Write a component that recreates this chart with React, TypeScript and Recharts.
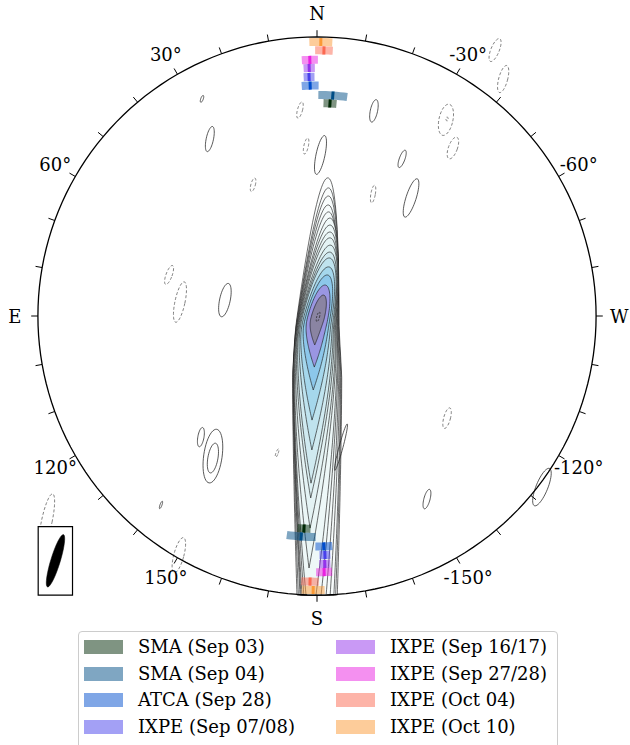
import React from "react";
import { ScatterChart, Scatter, XAxis, YAxis, Legend } from "recharts";

// sky frame: circle radius = 100 units, position angle counted from N through E (left)
const FONT = "'DejaVu Serif', serif";

const tickAngles = [0, 10, 20, 30, 40, 50, 60, 70, 80, 90, 100, 110, 120, 130, 140, 150, 160, 170,
  180, 190, 200, 210, 220, 230, 240, 250, 260, 270, 280, 290, 300, 310, 320, 330, 340, 350];
const axisLabels = ["N", "30°", "60°", "E", "120°", "150°", "S", "-150°", "-120°", "W", "-60°", "-30°"];
const axisLabelAngles = [0, 30, 60, 90, 120, 150, 180, 210, 240, 270, 300, 330];

// angle markers (legend order)
const markerNames = ["SMA (Sep 03)", "SMA (Sep 04)", "ATCA (Sep 28)", "IXPE (Sep 07/08)",
  "IXPE (Sep 16/17)", "IXPE (Sep 27/28)", "IXPE (Oct 04)", "IXPE (Oct 10)"];
const markerColors = ["#002905", "#004d85", "#004dcd", "#4741eb", "#9333eb", "#e921e1", "#fb6951", "#fb9935"];
const markerPA = [-3.5, -4.1, 1.7, 1.9, 1.8, 1.6, -1.5, -0.8];
const markerErr = [1.75, 3.75, 2.1, 1.3, 1.3, 1.8, 1.9, 2.4];
const markerRadius = [76.3, 79.2, 82.6, 85.7, 88.9, 91.8, 95.2, 98.2];

// main source contours, inner -> outer (waist = row of greatest width)
const blobContours = [
  { top: 7.5, waist: -1, bottom: -10.4, half: 2.4, leanTop: 0.25, leanBottom: 0, pTop: 2, fill: "#8a84a2" },
  { top: 11.1, waist: -2, bottom: -18.3, half: 3.7, leanTop: 0.22, leanBottom: 0.02, pTop: 2, fill: "#9a96e2" },
  { top: 14.7, waist: -4, bottom: -26.5, half: 4.5, leanTop: 0.22, leanBottom: 0.03, pTop: 2, fill: "#8cc7ea" },
  { top: 17.6, waist: -6, bottom: -37.3, half: 5.2, leanTop: 0.21, leanBottom: 0.035, pTop: 2, fill: "#a5d7ec" },
  { top: 20.8, waist: -8, bottom: -48, half: 5.8, leanTop: 0.19, leanBottom: 0.03, pTop: 2, fill: "#bfe3ee" },
  { top: 22.9, waist: -10, bottom: -59.9, half: 6.3, leanTop: 0.18, leanBottom: 0.03, pTop: 1.8, fill: "#d0eaf0" },
  { top: 25.4, waist: -12, bottom: -65.2, half: 6.7, leanTop: 0.17, leanBottom: 0.03, pTop: 1.7, fill: "#dcf0f2" },
  { top: 28, waist: -14, bottom: -76, half: 7.1, leanTop: 0.15, leanBottom: 0.03, pTop: 1.6, fill: "#e4f3f4" },
  { top: 30.1, waist: -15, bottom: -90.3, half: 7.4, leanTop: 0.14, leanBottom: 0.03, pTop: 1.5, fill: "#eaf6f6" },
  { top: 32.6, waist: -16, bottom: -115, half: 7.7, leanTop: 0.13, leanBottom: 0.02, pTop: 1.4, fill: "#eef8f8" },
  { top: 35.1, waist: -17, bottom: -130, half: 7.9, leanTop: 0.12, leanBottom: 0.015, pTop: 1.3, fill: "#f1f9f9" },
  { top: 37.3, waist: -18, bottom: -150, half: 8.1, leanTop: 0.1, leanBottom: 0.01, pTop: 1.25, fill: "#f4fafa" },
  { top: 39.8, waist: -19, bottom: -170, half: 8.3, leanTop: 0.09, leanBottom: 0.005, pTop: 1.2, fill: "#f6fbfb" },
  { top: 43, waist: -20, bottom: -195, half: 8.5, leanTop: 0.085, leanBottom: 0, pTop: 1.15, fill: "#f8fcfc" },
  { top: 45.9, waist: -21, bottom: -220, half: 8.65, leanTop: 0.08, leanBottom: 0, pTop: 1.1, fill: "#fafdfd" },
  { top: 49.5, waist: -22, bottom: -250, half: 8.8, leanTop: 0.07, leanBottom: 0, pTop: 1.1, fill: "#fcfefe" },
];
const peakContour = { x: 0.4, y: -0.3, rx: 0.5, ry: 1.8, tilt: 15 };

// isolated positive (solid) and negative (dashed) contours
const solidBlobs = [
  { x: -41.2, y: 77.8, rx: 0.45, ry: 1.3, tilt: 20 },
  { x: -38.4, y: 63.4, rx: 1.3, ry: 4.6, tilt: 12 },
  { x: 1.25, y: 57.7, rx: 1.6, ry: 7.1, tilt: 12 },
  { x: -33, y: 5.7, rx: 1.9, ry: 6.1, tilt: 12 },
  { x: 20.4, y: 73.5, rx: 1.3, ry: 4.1, tilt: 12 },
  { x: 30.5, y: 56.3, rx: 1.0, ry: 3.3, tilt: 20 },
  { x: 33.7, y: 42.3, rx: 1.8, ry: 7.2, tilt: 18 },
  { x: -37.3, y: -50.2, rx: 3.3, ry: 9.7, tilt: 8 },
  { x: -41.6, y: -43.4, rx: 1.1, ry: 3.5, tilt: 10 },
  { x: -37.3, y: -50.9, rx: 1.8, ry: 5.4, tilt: 10 },
  { x: -55.9, y: -67.7, rx: 0.35, ry: 1.4, tilt: 20 },
  { x: 39.4, y: -65.6, rx: 1.1, ry: 3.6, tilt: 15 },
  { x: 80.6, y: -61.3, rx: 2.1, ry: 7.2, tilt: 22 },
  { x: 8.6, y: -47, rx: 0.7, ry: 8.6, tilt: 15 },
];
const dashedBlobs = [
  { x: -6.1, y: 73.8, rx: 0.9, ry: 3.0, tilt: 15 },
  { x: -3.9, y: 60.9, rx: 0.8, ry: 2.9, tilt: 12 },
  { x: -22.9, y: 47, rx: 0.8, ry: 2.5, tilt: 15 },
  { x: -53, y: 14.7, rx: 1.1, ry: 3.6, tilt: 20 },
  { x: -49.1, y: 5, rx: 1.8, ry: 7.4, tilt: 12 },
  { x: 63.8, y: 95.3, rx: 1.5, ry: 4.4, tilt: 22 },
  { x: 66.7, y: 84.9, rx: 1.6, ry: 5, tilt: 15 },
  { x: 46.2, y: 70.3, rx: 2.5, ry: 5.7, tilt: 12 },
  { x: 46.6, y: 70.6, rx: 0.4, ry: 0.7, tilt: 0 },
  { x: 48.7, y: 60.2, rx: 1.6, ry: 4.1, tilt: 20 },
  { x: 20.1, y: 43.7, rx: 0.8, ry: 3.2, tilt: 10 },
  { x: -14.3, y: -49.1, rx: 0.4, ry: 1.6, tilt: 20 },
  { x: -49.5, y: -85.7, rx: 1.8, ry: 6.5, tilt: 15 },
  { x: -96.8, y: -73.5, rx: 1.9, ry: 10, tilt: 12 },
  { x: 46.6, y: -36.6, rx: 1.2, ry: 3.8, tilt: 15 },
];

// beam inset
const beamBox = { x1: -99.9, x2: -87.6, y1: -75.5, y2: -100 };
const beam = { x: -93.7, y: -87.7, rx: 1.7, ry: 9.8, tilt: 17 };

const rad = (d: number) => (d * Math.PI) / 180;
const polar = (pa: number, r: number) => ({ x: -r * Math.sin(rad(pa)), y: r * Math.cos(rad(pa)) });

const ellipsePoints = (e: { x: number; y: number; rx: number; ry: number; tilt: number }) => {
  const t = rad(e.tilt);
  return Array.from({ length: 48 }, (_, k) => {
    const f = (k / 48) * 2 * Math.PI;
    const a = e.rx * Math.cos(f);
    const b = e.ry * Math.sin(f);
    return { x: e.x + a * Math.cos(t) + b * Math.sin(t), y: e.y - a * Math.sin(t) + b * Math.cos(t) };
  });
};

// ridge line of the source: peak position, leaning east-of-north above it
const X0 = 0.4;
const BEND = 5;
const FLOOR = -100;
type Contour = (typeof blobContours)[number];
const ridgeX = (c: Contour, y: number) =>
  y >= 0 ? X0 + c.leanTop * y : X0 + c.leanBottom * y + (c.leanTop - c.leanBottom) * BEND * Math.tanh(y / BEND);

const blobPoints = (c: Contour) => {
  const right: { x: number; y: number }[] = [];
  const left: { x: number; y: number }[] = [];
  for (let k = 30; k >= 0; k--) {
    const u = Math.sin(((k / 30) * Math.PI) / 2);
    const y = c.waist + (c.top - c.waist) * u;
    const h = c.half * Math.sqrt(Math.max(0, 1 - Math.pow(u, c.pTop)));
    right.push({ x: ridgeX(c, y) + h, y });
    left.push({ x: ridgeX(c, y) - h, y });
  }
  const uEnd = (c.waist - Math.max(c.bottom, FLOOR)) / (c.waist - c.bottom);
  for (let k = 1; k <= 40; k++) {
    const u = (uEnd * k) / 40;
    const y = c.waist - (c.waist - c.bottom) * u;
    const h = c.half * (1 - Math.pow(u, 1.6));
    right.push({ x: ridgeX(c, y) + h, y });
    left.push({ x: ridgeX(c, y) - h, y });
  }
  return [...right, ...left.reverse()];
};

const wedgePoints = (pa: number, err: number, r: number) => {
  const pts = [];
  for (let k = 0; k <= 8; k++) pts.push(polar(pa - err + (2 * err * k) / 8, r + 1.45));
  for (let k = 8; k >= 0; k--) pts.push(polar(pa - err + (2 * err * k) / 8, r - 1.45));
  return pts;
};

const circlePoints = Array.from({ length: 180 }, (_, k) => polar(k * 2, 100));
const tickPoints = tickAngles.flatMap((a) => [polar(a, 100), polar(a, 102.4)]);
const labelPoints = axisLabels.map((label, i) => ({ ...polar(axisLabelAngles[i], 108.3), label }));

const NoDot = () => <g />;

const segments = (p: any) => {
  const pts = p.points || [];
  let d = "";
  for (let i = 0; i + 1 < pts.length; i += 2) d += `M${pts[i].x},${pts[i].y}L${pts[i + 1].x},${pts[i + 1].y}`;
  return <path d={d} stroke="#000" strokeWidth={1} fill="none" />;
};

const LabelText = (p: any) => (
  <text x={p.cx} y={p.cy} textAnchor="middle" dominantBaseline="central" fontFamily={FONT} fontSize={18} fill="#000">
    {p.payload.label}
  </text>
);

const renderLegend = () => (
  <div style={{ position: "relative", width: 478, height: 128, border: "1px solid #cccccc", borderRadius: 4,
    background: "rgba(255,255,255,0.8)", fontFamily: FONT, fontSize: 18, color: "#000" }}>
    {markerNames.map((name, i) => (
      <div key={name} style={{ position: "absolute", left: i < 4 ? 5 : 257, top: 8 + (i % 4) * 26.6, height: 14,
        display: "flex", alignItems: "center", whiteSpace: "nowrap" }}>
        <span style={{ display: "inline-block", width: 39, height: 14, background: markerColors[i], opacity: 0.5, marginRight: 15 }} />
        <span style={{ lineHeight: "14px" }}>{name}</span>
      </div>
    ))}
  </div>
);

export default function App() {
  return (
    <div style={{ position: "absolute", left: 0, top: 0, width: 630, height: 745, overflow: "hidden", background: "#fff" }}>
      <ScatterChart width={630} height={745} margin={{ top: 9, right: 6, bottom: 122, left: 10 }}>
        <XAxis type="number" dataKey="x" domain={[-110, 110]} hide />
        <YAxis type="number" dataKey="y" domain={[-110, 110]} hide />

        {blobContours.slice().reverse().map((c, i) => (
          <Scatter key={`blob${i}`} data={blobPoints(c)} shape={NoDot} isAnimationActive={false}
            line={{ stroke: "#1a1a1a", strokeWidth: 0.75, strokeOpacity: 0.85, fill: c.fill }} lineJointType="linearClosed" />
        ))}
        <Scatter data={ellipsePoints(peakContour)} shape={NoDot} isAnimationActive={false}
          line={{ stroke: "#222", strokeWidth: 0.8, fill: "none", strokeDasharray: "2 1.5" }} lineJointType="linearClosed" />

        {solidBlobs.map((e, i) => (
          <Scatter key={`pos${i}`} data={ellipsePoints(e)} shape={NoDot} isAnimationActive={false}
            line={{ stroke: "#222", strokeWidth: 0.75, fill: "none" }} lineJointType="linearClosed" />
        ))}
        {dashedBlobs.map((e, i) => (
          <Scatter key={`neg${i}`} data={ellipsePoints(e)} shape={NoDot} isAnimationActive={false}
            line={{ stroke: "#555", strokeWidth: 0.75, fill: "none", strokeDasharray: "3 2" }} lineJointType="linearClosed" />
        ))}

        <Scatter data={circlePoints} shape={NoDot} isAnimationActive={false}
          line={{ stroke: "#000", strokeWidth: 1.3, fill: "none" }} lineJointType="linearClosed" />
        <Scatter data={tickPoints} shape={NoDot} isAnimationActive={false} line={segments} />
        <Scatter data={labelPoints} shape={LabelText} isAnimationActive={false} />

        {markerPA.flatMap((pa, i) => [0, 180].map((flip) => (
          <Scatter key={`w${i}-${flip}`} data={wedgePoints(pa + flip, markerErr[i], markerRadius[i])} shape={NoDot}
            isAnimationActive={false} line={{ stroke: "none", fill: markerColors[i], fillOpacity: 0.5 }} lineJointType="linearClosed" />
        )))}
        {markerPA.flatMap((pa, i) => [0, 180].map((flip) => (
          <Scatter key={`c${i}-${flip}`} data={[polar(pa + flip, markerRadius[i] - 1.45), polar(pa + flip, markerRadius[i] + 1.45)]}
            shape={NoDot} isAnimationActive={false} line={{ stroke: markerColors[i], strokeWidth: 3, fill: "none" }} />
        )))}

        <Scatter data={[{ x: beamBox.x1, y: beamBox.y1 }, { x: beamBox.x2, y: beamBox.y1 }, { x: beamBox.x2, y: beamBox.y2 }, { x: beamBox.x1, y: beamBox.y2 }]}
          shape={NoDot} isAnimationActive={false} line={{ stroke: "#000", strokeWidth: 1.2, fill: "#fff" }} lineJointType="linearClosed" />
        <Scatter data={ellipsePoints(beam)} shape={NoDot} isAnimationActive={false}
          line={{ stroke: "#000", strokeWidth: 0.5, fill: "#000" }} lineJointType="linearClosed" />

        <Legend content={renderLegend} layout="horizontal" verticalAlign="middle" align="center"
          wrapperStyle={{ left: 78, top: 631, width: 480, height: 130 }} />
      </ScatterChart>
    </div>
  );
}
